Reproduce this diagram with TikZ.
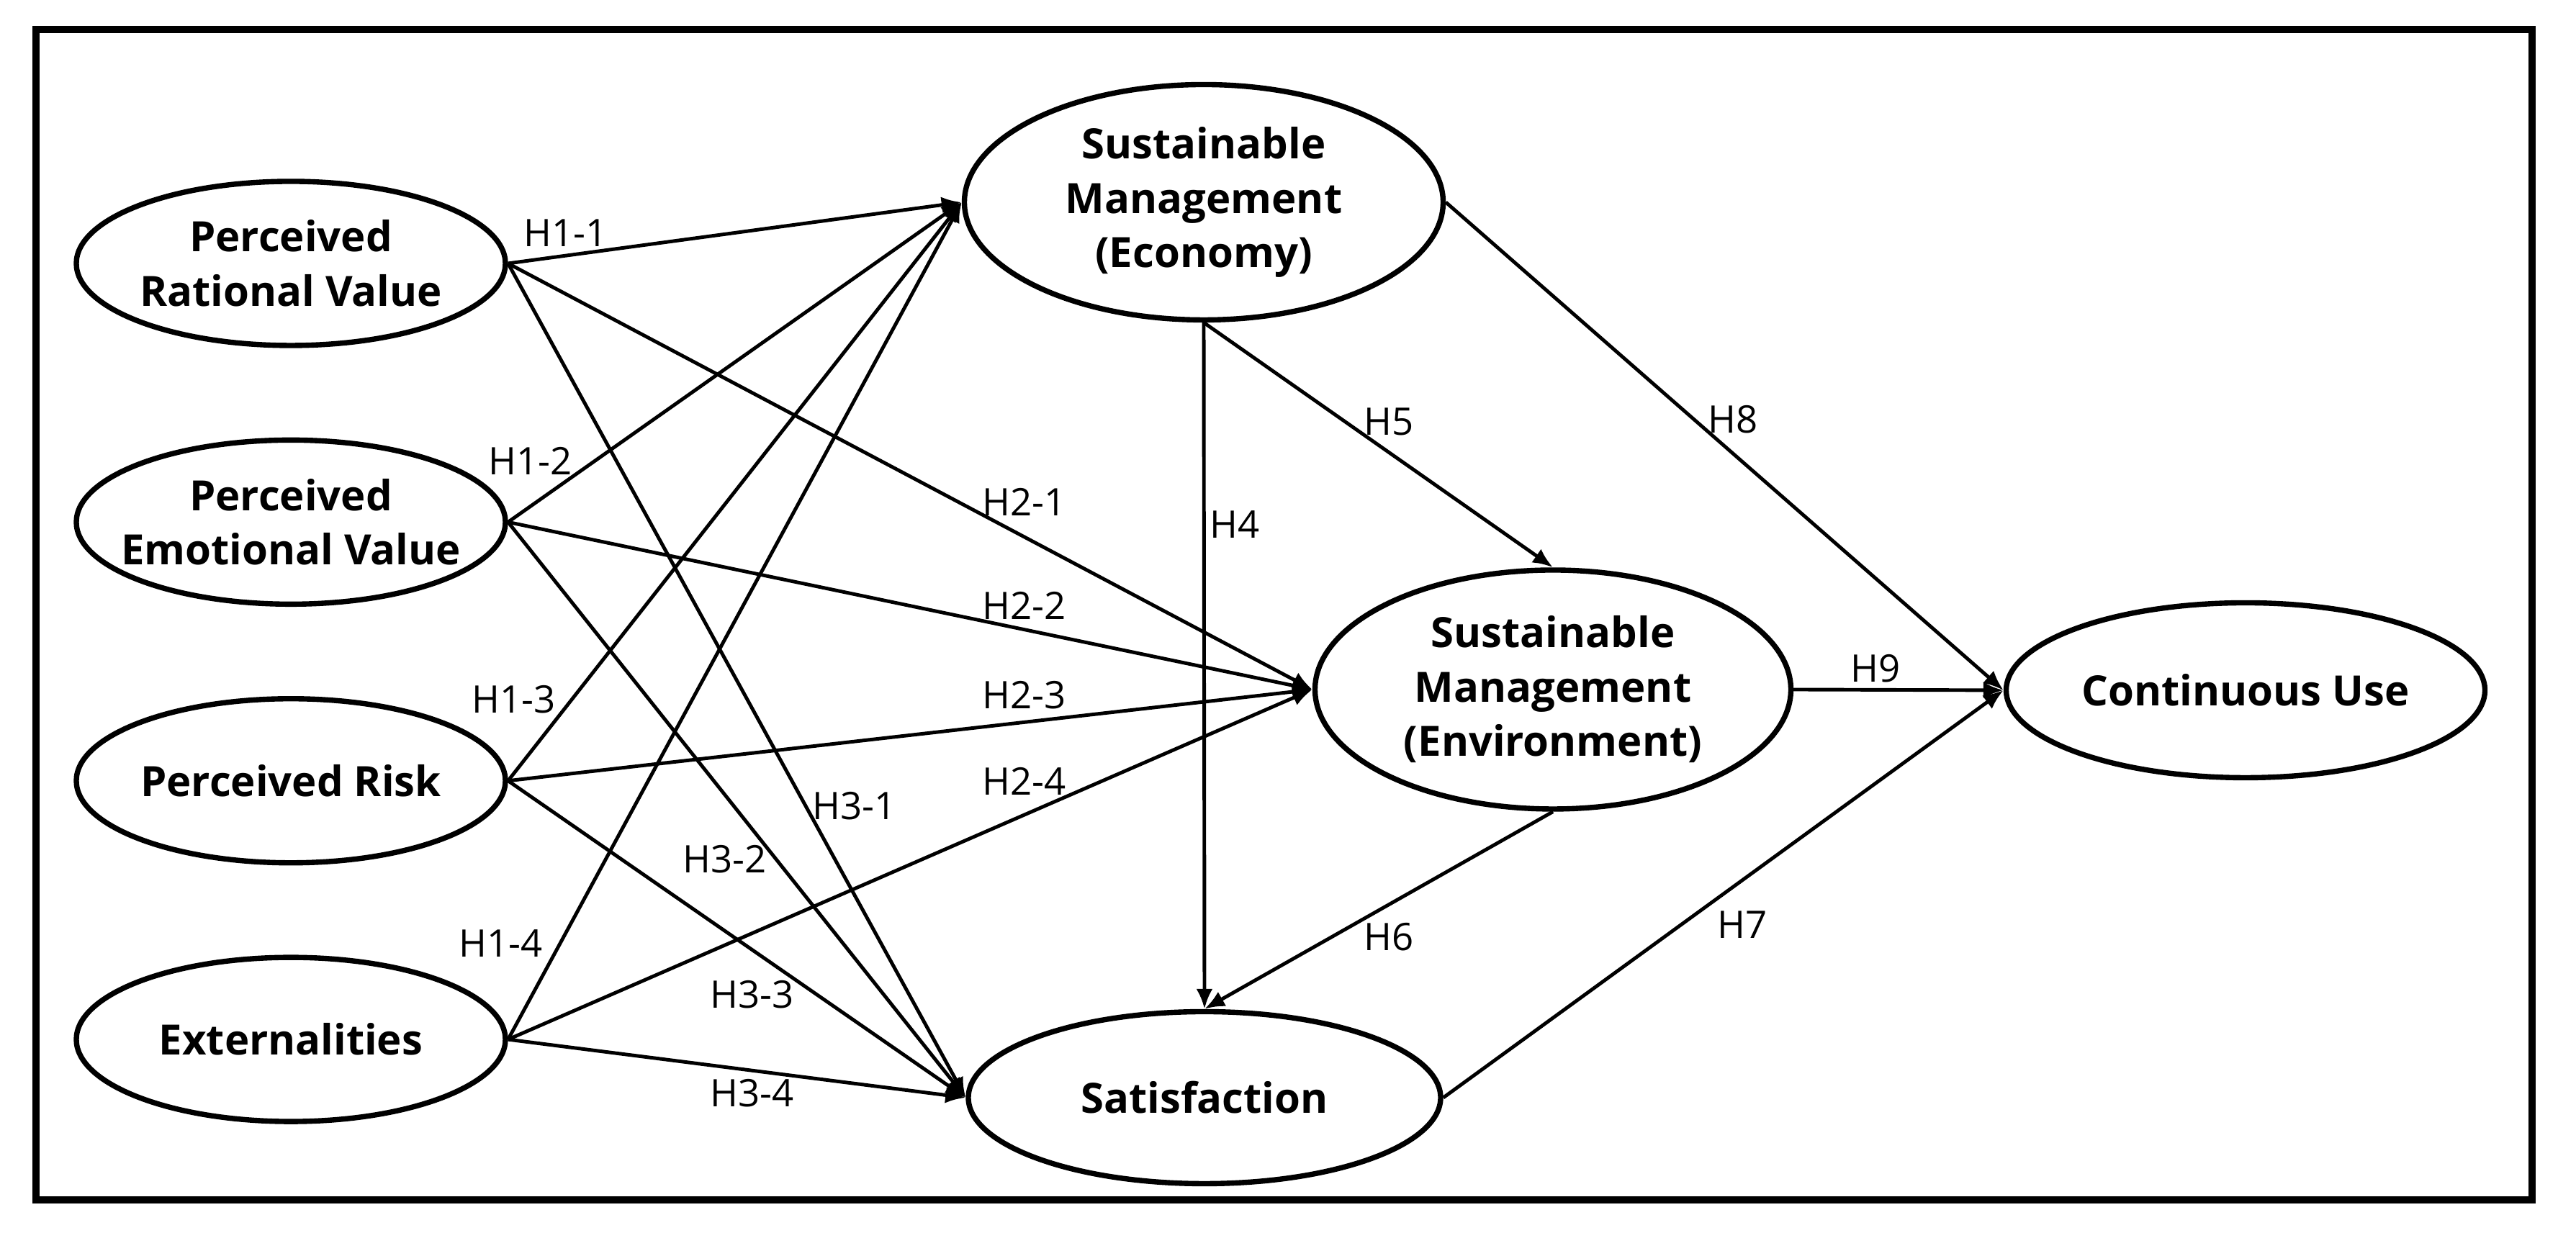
\documentclass[tikz,border=0pt]{standalone}
\usepackage{fontspec}
\setmainfont{Open Sans}
\usepackage{tikz}
\usetikzlibrary{arrows.meta,shapes.geometric,positioning}

\begin{document}
\begin{tikzpicture}[
  latent/.style={draw, ellipse, line width=2.1pt, inner xsep=-0.6cm, inner ysep=0pt, align=center,
    font=\fontsize{16.5}{21.5}\selectfont\bfseries},
  small/.style={latent, minimum width=5.96cm, minimum height=2.28cm},
  hyp/.style={font=\fontsize{15}{17}\selectfont, inner sep=1pt},
  link/.style={-{Latex[length=2.8mm,width=2.3mm]}, line width=1.4pt}]
  \useasboundingbox (0,0) rectangle (35.78,17.13);
  \draw[line width=2.6pt] (0.50,0.46) rectangle (35.17,16.72);

  \node[small] (prv) at (4.04,13.47) {Perceived\\Rational Value};
  \node[small, below=1.24cm of prv] (pev) {Perceived\\Emotional Value};
  \node[small, below=1.24cm of pev] (pr) {Perceived Risk};
  \node[small, below=1.24cm of pr] (ext) {Externalities};

  \node[latent, minimum width=6.65cm, minimum height=3.27cm] (sme) at (16.72,14.32) {Sustainable\\Management\\(Economy)};
  \node[latent, minimum width=6.61cm, minimum height=3.32cm] (env) at (21.57,7.55) {Sustainable\\Management\\(Environment)};
  \node[latent, minimum width=6.56cm, minimum height=2.39cm] (sat) at (16.73,1.88) {Satisfaction};
  \node[latent, minimum width=6.65cm, minimum height=2.43cm] (cu) at (31.19,7.54) {Continuous Use};

  \foreach \s in {prv,pev,pr,ext}{
    \draw[link] (\s.east) -- (sme.west);
    \draw[link] (\s.east) -- (env.west);
    \draw[link] (\s.east) -- (sat.west);
  }
  \draw[link] (sme.south) -- (sat.north);
  \draw[link] (sme.south) -- (env.north);
  \draw[link] (env.south) -- (sat.north);
  \draw[link] (sme.east) -- (cu.west);
  \draw[link] (env.east) -- (cu.west);
  \draw[link] (sat.east) -- (cu.west);

  \foreach \nm/\t/\x/\y in {h11/H1-1/7.86/13.89, h12/H1-2/7.37/10.73, h13/H1-3/7.14/7.41, h14/H1-4/6.96/4.02,
      h21/H2-1/14.23/10.16, h22/H2-2/14.23/8.72, h23/H2-3/14.23/7.47, h24/H2-4/14.23/6.28,
      h31/H3-1/11.87/5.93, h32/H3-2/10.07/5.19, h33/H3-3/10.45/3.31, h34/H3-4/10.45/1.94,
      h4/H4/17.15/9.84, h5/H5/19.29/11.27, h6/H6/19.29/4.11, h7/H7/24.20/4.28,
      h8/H8/24.07/11.30, h9/H9/26.05/7.84}
    \node[hyp] (\nm) at (\x,\y) {\t};
\end{tikzpicture}
\end{document}
